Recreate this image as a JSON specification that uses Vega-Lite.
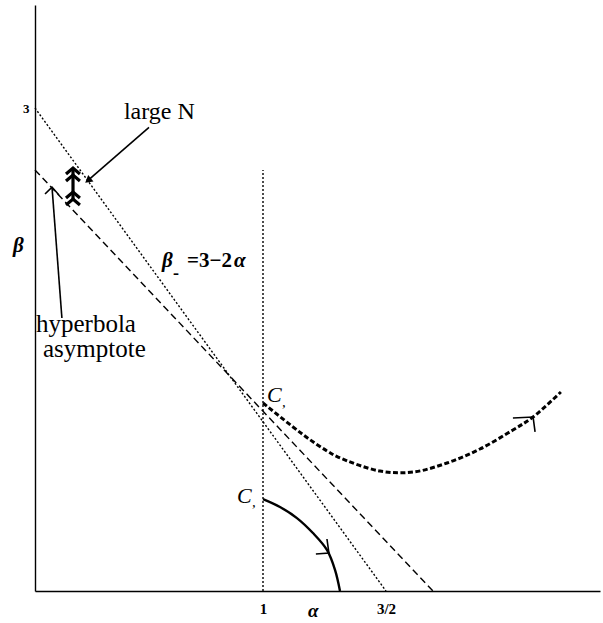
{
  "$schema": "https://vega.github.io/schema/vega-lite/v6.json",
  "width": 565,
  "height": 586,
  "autosize": "none",
  "padding": {"left": 35, "top": 5, "right": 3, "bottom": 32},
  "background": "white",
  "config": {"view": {"stroke": null}},
  "datasets": {
    "lines": [
      {"id": "beta_minus", "style": "dotted", "i": 0, "a": 0, "b": 3},
      {"id": "beta_minus", "style": "dotted", "i": 1, "a": 1.5, "b": 0},
      {"id": "alpha_one", "style": "dotted", "i": 0, "a": 1, "b": 0},
      {"id": "alpha_one", "style": "dotted", "i": 1, "a": 1, "b": 2.615},
      {"id": "asymptote", "style": "dashed", "i": 0, "a": 0, "b": 2.615},
      {"id": "asymptote", "style": "dashed", "i": 1, "a": 1.691, "b": 0},
      {"id": "c2_path", "style": "heavy", "i": 0, "a": 1.0, "b": 1.168},
      {"id": "c2_path", "style": "heavy", "i": 1, "a": 1.122, "b": 1.019},
      {"id": "c2_path", "style": "heavy", "i": 2, "a": 1.191, "b": 0.94},
      {"id": "c2_path", "style": "heavy", "i": 3, "a": 1.26, "b": 0.87},
      {"id": "c2_path", "style": "heavy", "i": 4, "a": 1.305, "b": 0.832},
      {"id": "c2_path", "style": "heavy", "i": 5, "a": 1.476, "b": 0.745},
      {"id": "c2_path", "style": "heavy", "i": 6, "a": 1.61, "b": 0.739},
      {"id": "c2_path", "style": "heavy", "i": 7, "a": 1.748, "b": 0.795},
      {"id": "c2_path", "style": "heavy", "i": 8, "a": 1.882, "b": 0.882},
      {"id": "c2_path", "style": "heavy", "i": 9, "a": 2.016, "b": 1.0},
      {"id": "c2_path", "style": "heavy", "i": 10, "a": 2.098, "b": 1.081},
      {"id": "c2_path", "style": "heavy", "i": 11, "a": 2.211, "b": 1.236},
      {"id": "c1_path", "style": "solid", "i": 0, "a": 1.0, "b": 0.571},
      {"id": "c1_path", "style": "solid", "i": 1, "a": 1.069, "b": 0.522},
      {"id": "c1_path", "style": "solid", "i": 2, "a": 1.138, "b": 0.453},
      {"id": "c1_path", "style": "solid", "i": 3, "a": 1.203, "b": 0.36},
      {"id": "c1_path", "style": "solid", "i": 4, "a": 1.26, "b": 0.255},
      {"id": "c1_path", "style": "solid", "i": 5, "a": 1.293, "b": 0.13},
      {"id": "c1_path", "style": "solid", "i": 6, "a": 1.313, "b": 0},
      {"id": "hyp_pointer", "style": "thin", "i": 0, "a": 0.118, "b": 1.696},
      {"id": "hyp_pointer", "style": "thin", "i": 1, "a": 0.0746, "b": 2.509},
      {"id": "hyp_head", "style": "thin", "i": 0, "a": 0.0439, "b": 2.466},
      {"id": "hyp_head", "style": "thin", "i": 1, "a": 0.0746, "b": 2.509},
      {"id": "hyp_head", "style": "thin", "i": 2, "a": 0.105, "b": 2.46},
      {"id": "n_pointer", "style": "thin", "i": 0, "a": 0.5, "b": 2.88},
      {"id": "n_pointer", "style": "thin", "i": 1, "a": 0.2325, "b": 2.55},
      {"id": "c1_head", "style": "thin", "i": 0, "a": 1.215, "b": 0.23},
      {"id": "c1_head", "style": "thin", "i": 1, "a": 1.268, "b": 0.236},
      {"id": "c1_head", "style": "thin", "i": 2, "a": 1.26, "b": 0.323},
      {"id": "c2_head", "style": "thin", "i": 0, "a": 2.016, "b": 1.075},
      {"id": "c2_head", "style": "thin", "i": 1, "a": 2.098, "b": 1.081},
      {"id": "c2_head", "style": "thin", "i": 2, "a": 2.106, "b": 0.988},
      {"id": "n_shaft", "style": "bold", "i": 0, "a": 0.1667, "b": 2.627},
      {"id": "n_shaft", "style": "bold", "i": 1, "a": 0.1667, "b": 2.422},
      {"id": "n_top1", "style": "bold", "i": 0, "a": 0.136, "b": 2.59},
      {"id": "n_top1", "style": "bold", "i": 1, "a": 0.1667, "b": 2.627},
      {"id": "n_top1", "style": "bold", "i": 2, "a": 0.197, "b": 2.59},
      {"id": "n_top2", "style": "bold", "i": 0, "a": 0.136, "b": 2.547},
      {"id": "n_top2", "style": "bold", "i": 1, "a": 0.1667, "b": 2.584},
      {"id": "n_top2", "style": "bold", "i": 2, "a": 0.197, "b": 2.547},
      {"id": "n_bot1", "style": "bold", "i": 0, "a": 0.136, "b": 2.441},
      {"id": "n_bot1", "style": "bold", "i": 1, "a": 0.1667, "b": 2.478},
      {"id": "n_bot1", "style": "bold", "i": 2, "a": 0.197, "b": 2.441},
      {"id": "n_bot2", "style": "bold", "i": 0, "a": 0.136, "b": 2.398},
      {"id": "n_bot2", "style": "bold", "i": 1, "a": 0.1667, "b": 2.435},
      {"id": "n_bot2", "style": "bold", "i": 2, "a": 0.197, "b": 2.398}
    ]
  },
  "encoding": {
    "x": {
      "field": "a",
      "type": "quantitative",
      "scale": {"domain": [0, 1, 2.37], "range": [0, 228, 565], "nice": false, "zero": false},
      "axis": {
        "values": [1, 1.5],
        "labelExpr": "datum.value == 1.5 ? '3/2' : '1'",
        "title": null,
        "grid": false,
        "ticks": false,
        "tickSize": 0,
        "domainColor": "black",
        "domainWidth": 1.4,
        "labelFont": "Liberation Serif",
        "labelFontWeight": "bold",
        "labelFontSize": 15,
        "labelColor": "black",
        "labelPadding": 10,
        "labelFlush": false,
        "labelOverlap": false
      }
    },
    "y": {
      "field": "b",
      "type": "quantitative",
      "scale": {"domain": [0, 3.64], "nice": false, "zero": false},
      "axis": {
        "values": [3],
        "labelExpr": "'3'",
        "title": null,
        "grid": false,
        "ticks": false,
        "tickSize": 0,
        "domainColor": "black",
        "domainWidth": 1.4,
        "labelFont": "Liberation Serif",
        "labelFontWeight": "bold",
        "labelFontSize": 13,
        "labelColor": "black",
        "labelPadding": 6,
        "labelFlush": false,
        "labelOverlap": false
      }
    }
  },
  "layer": [
    {
      "data": {"name": "lines"},
      "transform": [{"filter": "datum.style == 'dotted'"}],
      "mark": {"type": "line", "color": "black", "strokeWidth": 1.4, "strokeDash": [2, 2], "strokeCap": "butt"},
      "encoding": {"detail": {"field": "id"}, "order": {"field": "i"}}
    },
    {
      "data": {"name": "lines"},
      "transform": [{"filter": "datum.style == 'dashed'"}],
      "mark": {"type": "line", "color": "black", "strokeWidth": 1.4, "strokeDash": [7, 4], "strokeCap": "butt"},
      "encoding": {"detail": {"field": "id"}, "order": {"field": "i"}}
    },
    {
      "data": {"name": "lines"},
      "transform": [{"filter": "datum.style == 'heavy'"}],
      "mark": {"type": "line", "color": "black", "strokeWidth": 3, "strokeDash": [5, 2.5], "strokeCap": "butt", "interpolate": "catmull-rom"},
      "encoding": {"detail": {"field": "id"}, "order": {"field": "i"}}
    },
    {
      "data": {"name": "lines"},
      "transform": [{"filter": "datum.style == 'solid'"}],
      "mark": {"type": "line", "color": "black", "strokeWidth": 2.4, "interpolate": "catmull-rom"},
      "encoding": {"detail": {"field": "id"}, "order": {"field": "i"}}
    },
    {
      "data": {"name": "lines"},
      "transform": [{"filter": "datum.style == 'thin'"}],
      "mark": {"type": "line", "color": "black", "strokeWidth": 1.6},
      "encoding": {"detail": {"field": "id"}, "order": {"field": "i"}}
    },
    {
      "data": {"name": "lines"},
      "transform": [{"filter": "datum.style == 'bold'"}],
      "mark": {"type": "line", "color": "black", "strokeWidth": 3.2},
      "encoding": {"detail": {"field": "id"}, "order": {"field": "i"}}
    },
    {
      "data": {"values": [{"a": 0.2325, "b": 2.55}]},
      "mark": {"type": "point", "shape": "triangle-up", "filled": true, "color": "black", "opacity": 1, "size": 70, "angle": 231},
      "encoding": {}
    },
    {
      "data": {"values": [
        {"label": "large N", "a": 0.39, "b": 2.93}
      ]},
      "mark": {"type": "text", "font": "Liberation Serif", "fontSize": 24, "color": "black", "align": "left", "baseline": "alphabetic"},
      "encoding": {"text": {"field": "label"}}
    },
    {
      "data": {"values": [
        {"label": "hyperbola", "a": 0.0044, "b": 1.609},
        {"label": "asymptote", "a": 0.035, "b": 1.453}
      ]},
      "mark": {"type": "text", "font": "Liberation Serif", "fontSize": 25, "color": "black", "align": "left", "baseline": "alphabetic"},
      "encoding": {"text": {"field": "label"}}
    },
    {
      "data": {"values": [
        {"label": "β", "a": -0.0965, "b": 2.106},
        {"label": "β", "a": 0.557, "b": 2.012},
        {"label": "α", "a": 0.873, "b": 2.012}
      ]},
      "mark": {"type": "text", "font": "Liberation Serif", "fontSize": 21, "fontStyle": "italic", "fontWeight": "bold", "color": "black", "align": "left", "baseline": "alphabetic"},
      "encoding": {"text": {"field": "label"}}
    },
    {
      "data": {"values": [
        {"label": "α", "a": 1.183, "b": -0.161}
      ]},
      "mark": {"type": "text", "font": "Liberation Serif", "fontSize": 19, "fontStyle": "italic", "fontWeight": "bold", "color": "black", "align": "left", "baseline": "alphabetic"},
      "encoding": {"text": {"field": "label"}}
    },
    {
      "data": {"values": [
        {"label": "=3−2", "a": 0.667, "b": 2.012}
      ]},
      "mark": {"type": "text", "font": "Liberation Serif", "fontSize": 21, "fontWeight": "bold", "color": "black", "align": "left", "baseline": "alphabetic"},
      "encoding": {"text": {"field": "label"}}
    },
    {
      "data": {"values": [
        {"label": "-", "a": 0.605, "b": 1.938}
      ]},
      "mark": {"type": "text", "font": "Liberation Serif", "fontSize": 18, "fontWeight": "bold", "color": "black", "align": "left", "baseline": "alphabetic"},
      "encoding": {"text": {"field": "label"}}
    },
    {
      "data": {"values": [
        {"label": "C", "a": 1.016, "b": 1.174},
        {"label": "C", "a": 0.886, "b": 0.547}
      ]},
      "mark": {"type": "text", "font": "Liberation Serif", "fontSize": 22, "fontStyle": "italic", "color": "black", "align": "left", "baseline": "alphabetic"},
      "encoding": {"text": {"field": "label"}}
    },
    {
      "data": {"values": [
        {"label": ",", "a": 1.077, "b": 1.143},
        {"label": ",", "a": 0.952, "b": 0.522}
      ]},
      "mark": {"type": "text", "font": "Liberation Serif", "fontSize": 15, "fontStyle": "italic", "color": "black", "align": "left", "baseline": "alphabetic"},
      "encoding": {"text": {"field": "label"}}
    }
  ]
}
